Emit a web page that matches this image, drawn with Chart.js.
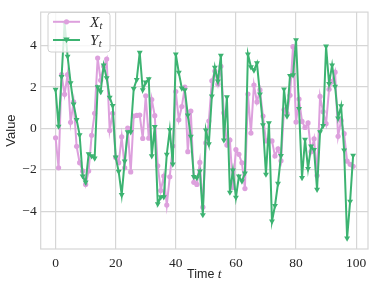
<!DOCTYPE html>
<html>
<head>
<meta charset="utf-8">
<script src="https://cdn.jsdelivr.net/npm/chart.js@4/dist/chart.umd.min.js"></script>
<style>
  html, body { margin: 0; padding: 0; background: #ffffff; }
  #wrap { width: 374px; height: 286px; position: relative; }
</style>
</head>
<body>
<div id="wrap"><canvas id="c" width="374" height="286"></canvas></div>
<script>
// ---- data ----
const timeSteps = Array.from({length: 100}, (_, i) => i);
const xSeries = [
  -0.45, -1.9, 2.6, 1.65, 2.6, 0.3, 1.28, -0.86, -1.65, -2.05,
  -2.7, -2.05, -0.33, 0.73, 3.4, 2.33, 3.0, 3.35, -0.1, 0.73,
  -1.4, -1.65, -0.4, -1.9, 0.02, -2.1, 0.6, 0.63, 0.65, -0.48,
  1.58, -0.47, 1.4, 0.62, -1.8, -3.0, -2.3, -3.7, -2.33, -0.85,
  1.78, 0.42, 1.06, 2.0, -1.12, 0.84, -2.6, -2.7, -1.64, -3.8,
  -0.7, 0.36, 2.3, 2.77, 2.14, 3.0, 0.75, -0.8, -0.56, -2.85,
  -1.02, -1.25, -1.66, -2.9, 1.66, -0.22, 2.1, 1.28, 1.86, 0.6,
  -0.6, -0.6, -0.6, -1.33, -0.98, -1.56, 0.9, 0.73, 1.6, 3.95,
  0.31, 1.42, 0.34, 0.05, 0.27, -1.12, -0.5, -2.27, 1.55, 0.81,
  0.23, 1.89, 2.27, 2.72, -0.38, 0.39, -0.25, -1.58, -1.73, -1.83
];
const ySeries = [
  1.88, 0.1, 2.5, 5.1, 3.48, 2.2, 1.17, 0.42, -0.31, -2.3,
  -2.6, -1.23, -1.33, -1.44, 2.0, 1.77, 3.05, 2.44, 1.5, 1.1,
  -1.39, -2.08, -3.2, -1.58, -0.17, -0.17, 1.92, 2.36, 3.67, 1.86,
  2.23, 2.39, -1.33, 0.09, -3.64, -3.31, -3.31, -1.25, -0.06, -1.73,
  3.59, 2.7, 1.94, 1.86, 0.64, -0.39, -2.33, -2.39, -2.06, -4.17,
  -0.08, -0.75, 1.56, 2.95, 2.28, 3.53, -0.56, 1.52, -3.09, -2.02,
  -3.33, -2.31, -2.55, -2.16, 3.59, 2.97, 2.81, 3.16, 1.66, 0.17,
  -2.22, 0.27, -4.48, -3.73, -2.66, -1.31, 1.9, 0.59, 2.55, 2.58,
  4.28, 0.95, -2.38, -0.53, -1.94, -0.86, -1.02, -2.95, -0.17, 0.13,
  3.97, 2.16, 3.06, 2.03, 0.5, 1.09, -1.05, -5.3, -3.52, -1.3
];
const xTicks = [0, 20, 40, 60, 80, 100];
const yTicks = [-4, -2, 0, 2, 4];
const seriesNames = [["X", "t"], ["Y", "t"]];
const xAxisTitle = ["Time ", "t"];
const yAxisTitle = "Value";

// ---- styles ----
const PINK = '#dda0dd';
const GREEN = '#3cb371';
const GRID = '#d6d6d6';
const TEXT = '#262626';

function toPts(xs, ys) { return xs.map((x, i) => ({x: x, y: ys[i]})); }

const frame = {
  id: 'frame',
  beforeDatasetsDraw(chart) {
    const a = chart.chartArea, ctx = chart.ctx;
    ctx.save();
    ctx.strokeStyle = GRID;
    ctx.lineWidth = 1.2;
    ctx.strokeRect(a.left, a.top, a.right - a.left, a.bottom - a.top);
    ctx.restore();
  }
};

function drawTriDown(ctx, x, y, r) {
  ctx.beginPath();
  ctx.moveTo(x - r, y - r * 0.75);
  ctx.lineTo(x + r, y - r * 0.75);
  ctx.lineTo(x, y + r);
  ctx.closePath();
  ctx.fill();
}

const extras = {
  id: 'extras',
  afterDraw(chart) {
    const ctx = chart.ctx, a = chart.chartArea;
    ctx.save();
    // legend
    const lx = 48, ly = 12.5, lw = 62, lh = 39.5;
    ctx.fillStyle = 'rgba(255,255,255,0.8)';
    ctx.strokeStyle = '#d0d0d0';
    ctx.lineWidth = 1;
    ctx.beginPath();
    ctx.roundRect(lx, ly, lw, lh, 3);
    ctx.fill();
    ctx.stroke();
    const colors = [PINK, GREEN];
    const rows = [21.8, 40];
    for (let i = 0; i < 2; i++) {
      const yy = rows[i];
      ctx.strokeStyle = colors[i];
      ctx.fillStyle = colors[i];
      ctx.lineWidth = 2;
      ctx.beginPath();
      ctx.moveTo(53, yy); ctx.lineTo(80, yy); ctx.stroke();
      if (i === 0) { ctx.beginPath(); ctx.arc(66.5, yy, 2.6, 0, Math.PI * 2); ctx.fill(); }
      else { drawTriDown(ctx, 66.5, yy, 3.2); }
      ctx.fillStyle = TEXT;
      ctx.textBaseline = 'alphabetic';
      ctx.textAlign = 'left';
      ctx.font = 'italic 15px "Liberation Serif"';
      ctx.fillText(seriesNames[i][0], 90, yy + 4.8);
      const w = ctx.measureText(seriesNames[i][0]).width;
      ctx.font = 'italic 10.5px "Liberation Serif"';
      ctx.fillText(seriesNames[i][1], 90 + w + 0.3, yy + 7.3);
    }
    // x title
    ctx.fillStyle = TEXT;
    ctx.font = '12.5px "Liberation Sans"';
    const w1 = ctx.measureText(xAxisTitle[0]).width;
    ctx.font = 'italic 13.5px "Liberation Serif"';
    const w2 = ctx.measureText(xAxisTitle[1]).width;
    const cx = (a.left + a.right) / 2;
    let sx = cx - (w1 + w2) / 2;
    ctx.textAlign = 'left';
    ctx.font = '12.5px "Liberation Sans"';
    ctx.fillText(xAxisTitle[0], sx, 277.5);
    ctx.font = 'italic 13.5px "Liberation Serif"';
    ctx.fillText(xAxisTitle[1], sx + w1, 277.5);
    // y title
    ctx.translate(15, (a.top + a.bottom) / 2);
    ctx.rotate(-Math.PI / 2);
    ctx.textAlign = 'center';
    ctx.font = '13px "Liberation Sans"';
    ctx.fillText(yAxisTitle, 0, 0);
    ctx.restore();
  }
};

new Chart(document.getElementById('c'), {
  type: 'line',
  data: {
    datasets: [
      {
        label: 'X_t', data: toPts(timeSteps, xSeries), order: 1,
        borderColor: PINK, backgroundColor: PINK, borderWidth: 2,
        pointStyle: 'circle', pointRadius: 2.6, pointBorderWidth: 0,
        pointBackgroundColor: PINK, tension: 0, fill: false
      },
      {
        label: 'Y_t', data: toPts(timeSteps, ySeries), order: 0,
        borderColor: GREEN, backgroundColor: GREEN, borderWidth: 2,
        pointStyle: 'triangle', pointRotation: 180, pointRadius: 3.4, pointBorderWidth: 0,
        pointBackgroundColor: GREEN, tension: 0, fill: false
      }
    ]
  },
  options: {
    responsive: false,
    animation: false,
    devicePixelRatio: 1,
    layout: { padding: { left: 0, top: 5, right: 6, bottom: 0 } },
    plugins: { legend: { display: false }, tooltip: { enabled: false } },
    scales: {
      x: {
        type: 'linear', min: -4.95, max: 103.95,
        afterFit(s) { s.height = 37; },
        afterBuildTicks(s) { s.ticks = xTicks.map(v => ({value: v})); },
        grid: { color: GRID, lineWidth: 1.2, drawTicks: false },
        border: { display: false },
        ticks: { padding: 6, color: TEXT, font: { family: 'Liberation Serif', size: 13.5 }, maxRotation: 0,
                 callback: v => String(v) }
      },
      y: {
        type: 'linear', min: -5.82, max: 5.62,
        afterFit(s) { s.width = 40.7; },
        afterBuildTicks(s) { s.ticks = yTicks.map(v => ({value: v})); },
        grid: { color: GRID, lineWidth: 1.2, drawTicks: false },
        border: { display: false },
        ticks: { padding: 4, color: TEXT, font: { family: 'Liberation Serif', size: 13.5 },
                 callback: v => (v < 0 ? '\u2212' + Math.abs(v) : String(v)) }
      }
    }
  },
  plugins: [frame, extras]
});
</script>
</body>
</html>
